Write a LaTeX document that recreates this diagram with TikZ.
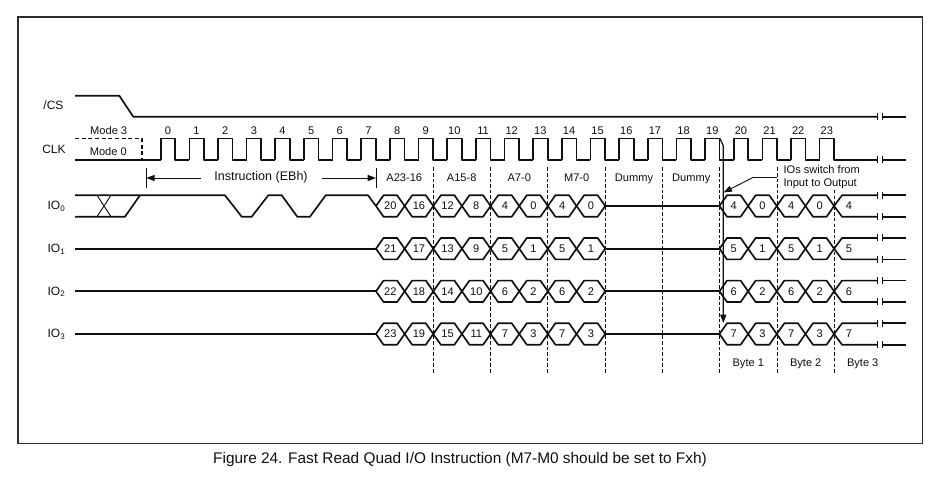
\documentclass[tikz,border=0pt]{standalone}
\usepackage{fontspec}
\setmainfont{Liberation Sans}
\usetikzlibrary{arrows.meta}
\definecolor{ink}{RGB}{15,15,15}
\definecolor{frame}{RGB}{45,45,45}

% one hexagon of the bus: name, left point, centre line, text
\newcommand{\buscell}[4]{%
  \draw[sig] (#2,#3) -- ++(7.5,-10.7) -- ++(13.65,0) -- ++(7.5,10.7) -- ++(-7.5,10.7) -- ++(-13.65,0) -- cycle;
  \node[lab] (#1) at (#2+14.3,#3) {#4};
}
% broken end of a signal line
\newcommand{\breakend}[1]{%
  \draw[thin1] (877.7,#1-3.5) -- (877.7,#1+3.5);
  \draw[thin1] (882.6,#1-3.5) -- (882.6,#1+3.5);
  \draw[sig] (882.6,#1) -- (906,#1);
}

\begin{document}
\begin{tikzpicture}[
  x=0.75pt, y=-0.75pt,
  font=\fontsize{8.3}{9.8}\selectfont,
  >={Triangle[length=2.2mm,width=1.6mm]},
  sig/.style={draw=ink, line width=1.25pt, line join=round},
  thin1/.style={draw=ink, line width=0.7pt},
  lead/.style={draw=ink, line width=0.65pt, dash pattern=on 2.6pt off 1.6pt},
  lab/.style={text=ink, inner sep=0pt},
  sname/.style={text=ink, inner sep=0pt, font=\fontsize{9}{10}\selectfont}
]
\useasboundingbox (0,0) rectangle (940,481);
\node[draw=frame, line width=1pt, minimum width=678.2pt, minimum height=320pt, inner sep=0pt] (outer) at (470.2,230.3) {};
\node[lab, font=\fontsize{11.55}{13}\selectfont] (caption) at (460,460) {Figure 24. Fast Read Quad I/O Instruction (M7-M0 should be set to Fxh)};

% ---------------- CS ----------------
\node[sname] (n_cs) at (53.5,105.5) {/CS};
\draw[sig] (75,95.7) -- (119.3,95.7) -- (133.3,116.8) -- (877.7,116.8);
\breakend{116.8}

% ---------------- CLK ----------------
\node[sname] (n_clk) at (54,149) {CLK};
\node[lab] (m3) at (108.7,131) {Mode 3};
\node[lab] (m0) at (108.3,152) {Mode 0};
\draw[sig, dash pattern=on 3pt off 2pt] (75,138.4) -- (142,138.4) -- (142,159.7);
\draw[sig] (75,159.7) -- (160.7,159.7);
\foreach \k in {0,...,23} {
  \pgfmathsetmacro{\xa}{160.7+28.65*\k}
  \draw[sig] (\xa,159.7) -- (\xa,138.4) -- (\xa+14.6,138.4) -- (\xa+14.6,159.7) -- (\xa+28.65,159.7);
  \node[lab] (t\k) at (\xa+7.2,131) {\k};
}
\draw[sig] (834,159.7) -- (877.7,159.7);
\breakend{159.7}

% ---------------- INSTRUCTION ----------------
\coordinate (ia) at (146.3,178);
\coordinate (ib) at (376,178);
\draw[thin1] (146.3,168) -- (146.3,188);
\draw[thin1] (376,168) -- (376,188);
\node[lab, font=\fontsize{9.4}{11}\selectfont] (instr) at (261,177.5) {Instruction (EBh)};
\draw[->, thin1] (200.7,178) -- (ia);
\draw[->, thin1] (322,178) -- (ib);

% ---------------- DIVIDERS ----------------
\draw[lead] (433.3,167.5) -- (433.3,372.7);
\draw[lead] (490.3,167.5) -- (490.3,372.7);
\draw[lead] (547.7,167.5) -- (547.7,372.7);
\draw[lead] (605.4,167.5) -- (605.4,372.7);
\draw[lead] (662.7,167.5) -- (662.7,372.7);
\draw[lead] (719.5,167.5) -- (719.5,372.7);
\draw[lead] (777.3,167.5) -- (777.3,372.7);
\draw[lead] (834.3,190) -- (834.3,372.7);
\node[lab] (p1) at (404.3,177.7) {A23-16};
\node[lab] (p2) at (461.7,177.7) {A15-8};
\node[lab] (p3) at (519.3,177.7) {A7-0};
\node[lab] (p4) at (576.7,177.7) {M7-0};
\node[lab] (p5) at (634,178.7) {Dummy};
\node[lab] (p6) at (691.3,178.7) {Dummy};
\node[lab] (b1) at (748.3,363.5) {Byte 1};
\node[lab] (b2) at (805.7,363.5) {Byte 2};
\node[lab] (b3) at (862.7,363.5) {Byte 3};

% ---------------- IO LINES ----------------
\node[sname] (n_io0) at (56.5,206.5) {IO\textsubscript{0}};
\node[sname] (n_io1) at (56.5,249.2) {IO\textsubscript{1}};
\node[sname] (n_io2) at (56.5,291.8) {IO\textsubscript{2}};
\node[sname] (n_io3) at (56.5,334.5) {IO\textsubscript{3}};
\draw[sig] (75,195.3) -- (225,195.3) -- (241.7,216.7) -- (251.7,216.7) -- (268.3,195.3) -- (281.7,195.3) -- (297.3,216.7) -- (310,216.7) -- (325.7,195.3) -- (368,195.3) -- (376,206);
\draw[sig] (75,216.7) -- (125,216.7) -- (140,195.3);
\draw[thin1] (97,195.3) -- (111,216.7);
\draw[thin1] (111,195.3) -- (97,216.7);
\draw[sig] (75,248.7) -- (376,248.7);
\draw[sig] (75,291.3) -- (376,291.3);
\draw[sig] (75,334) -- (376,334);
\foreach \r/\ym in {0/206,1/248.7,2/291.3,3/334} {
  \foreach \v [count=\k from 0] in {20,16,12,8,4,0,4,0} {
    \pgfmathtruncatemacro{\w}{\v+\r}
    \pgfmathsetmacro{\xa}{376+28.65*\k}
    \buscell{a\r-\k}{\xa}{\ym}{\w}
  }
  \draw[sig] (605.3,\ym) -- (719.5,\ym);
  \foreach \v [count=\k from 0] in {4,0,4,0} {
    \pgfmathtruncatemacro{\w}{\v+\r}
    \pgfmathsetmacro{\xa}{719.5+28.65*\k}
    \buscell{d\r-\k}{\xa}{\ym}{\w}
  }
  \pgfmathtruncatemacro{\w}{4+\r}
  \pgfmathsetmacro{\yt}{\ym-10.7}
  \pgfmathsetmacro{\yb}{\ym+10.7}
  \draw[sig] (877.7,\yt) -- (842,\yt) -- (834.1,\ym) -- (842,\yb) -- (877.7,\yb);
  \node[lab] (e\r) at (849,\ym) {\w};
  \breakend{\yt}
  \breakend{\yb}
}

% ---------------- SWITCH CALLOUT ----------------
\node[lab, align=left, anchor=west] (note) at (783.3,177.6) {IOs switch from\\Input to Output};
\coordinate (sw) at (723.6,192.5);
\draw[thin1] (777.3,177.3) -- (753.3,177.3);
\draw[->, thin1] (753.3,177.3) -- (sw);
\coordinate (swa) at (720,138.5);
\coordinate (swb) at (723.3,323);
\draw[->, thin1, line width=0.9pt] (swa) -- (723.3,146) -- (swb);

\end{tikzpicture}
\end{document}
